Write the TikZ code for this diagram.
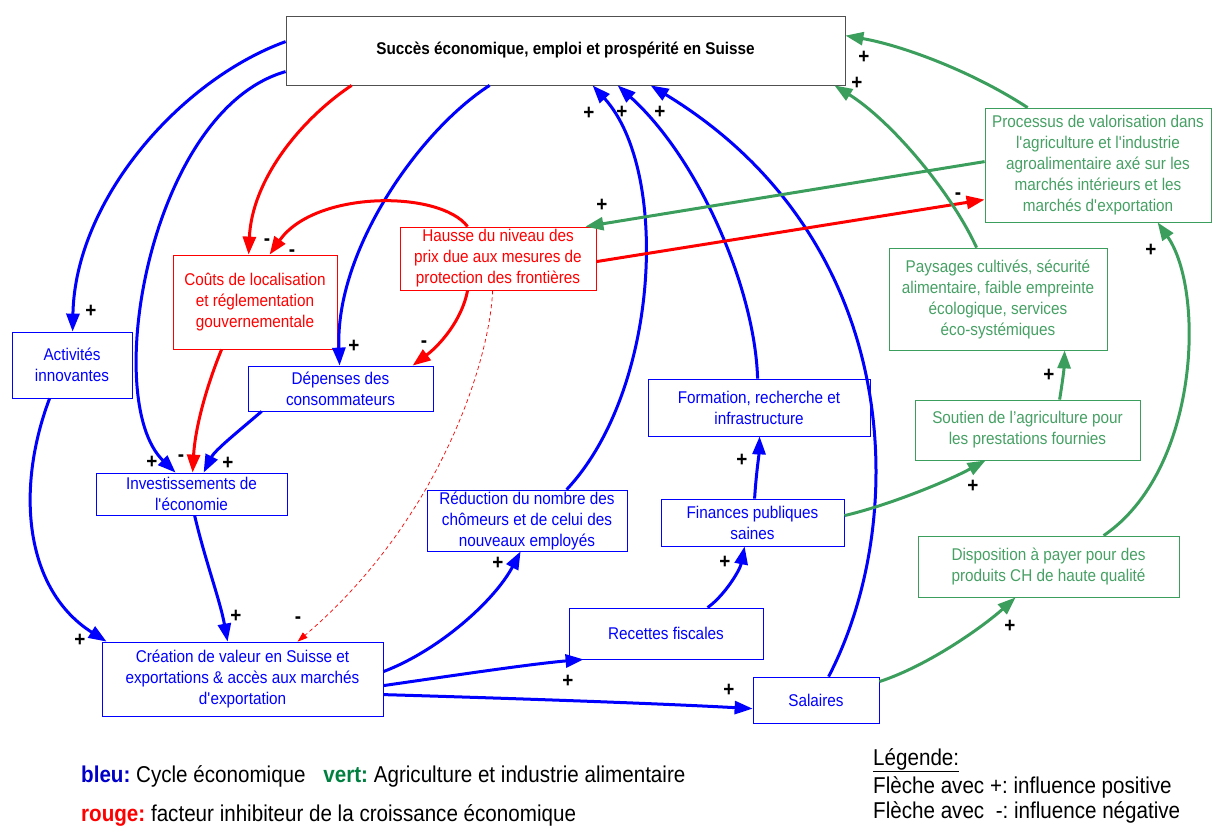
\documentclass[tikz,border=0pt]{standalone}
\usepackage{fontspec}
\setmainfont{Liberation Sans}[FakeStretch=0.9]
\usetikzlibrary{arrows.meta}
\definecolor{cblue}{RGB}{0,0,255}
\definecolor{cred}{RGB}{255,0,0}
\definecolor{cgreen}{RGB}{60,158,92}
\definecolor{gtext}{RGB}{70,160,100}
\definecolor{legblue}{RGB}{0,0,200}
\definecolor{leggreen}{RGB}{0,128,64}
\definecolor{topframe}{RGB}{80,80,80}
\newcommand\nodefnt{\fontsize{17}{21}\selectfont}
\newcommand\legfnt{\fontsize{22.9}{26}\selectfont}
\newcommand\signfnt{\fontsize{21}{21}\selectfont\bfseries}
\newcommand\aq{\textquotesingle}
\frenchspacing
\begin{document}
\begin{tikzpicture}[x=1pt,y=-1pt,
  box/.style={draw, rectangle, inner sep=0pt, align=center, font=\nodefnt, line width=0.8pt},
  bbox/.style={box, draw=cblue, text=cblue},
  rbox/.style={box, draw=cred, text=cred},
  gbox/.style={box, draw=cgreen, text=gtext},
  conn/.style={line width=3pt, -{Triangle[length=18pt,width=13pt]}},
  bl/.style={conn, draw=cblue},
  rd/.style={conn, draw=cred},
  gr/.style={conn, draw=cgreen},
  dsh/.style={draw=cred, line width=0.7pt, dash pattern=on 4pt off 3pt, -{Triangle[length=10pt,width=7pt]}},
  sign/.style={inner sep=0pt, font=\signfnt, text=black},
  legend/.style={inner sep=0pt, anchor=west, font=\legfnt, text=black}
]
\useasboundingbox (0,0) rectangle (1213,825);
% nodes
\node[box, draw=topframe, minimum width=559pt, minimum height=69pt, font=\nodefnt\bfseries] (top) at (565.5,50.5) {Succès économique, emploi et prospérité en Suisse};
\node[gbox, minimum width=226pt, minimum height=114pt] (proc) at (1098,165) {Processus de valorisation dans\\l\aq agriculture et l\aq industrie\\agroalimentaire axé sur les\\marchés intérieurs et les\\marchés d\aq exportation};
\node[rbox, minimum width=164pt, minimum height=94pt] (couts) at (255,302) {Coûts de localisation\\et réglementation\\gouvernementale};
\node[rbox, minimum width=196pt, minimum height=63pt] (hausse) at (498,258.5) {Hausse du niveau des\\prix due aux mesures de\\protection des frontières};
\node[gbox, minimum width=218pt, minimum height=102pt] (pays) at (998,299) {Paysages cultivés, sécurité\\alimentaire, faible empreinte\\écologique, services\\éco-systémiques};
\node[bbox, minimum width=120pt, minimum height=66pt] (activ) at (72,365) {Activités\\innovantes};
\node[bbox, minimum width=185pt, minimum height=45pt] (dep) at (340.5,388.5) {Dépenses des\\consommateurs};
\node[bbox, minimum width=222pt, minimum height=57pt] (form) at (759,407.5) {Formation, recherche et\\infrastructure};
\node[gbox, minimum width=225pt, minimum height=60pt] (sout) at (1027.5,430) {Soutien de l’agriculture pour\\les prestations fournies};
\node[bbox, minimum width=191pt, minimum height=42pt] (inv) at (191.5,494) {Investissements de\\l\aq économie};
\node[bbox, minimum width=200pt, minimum height=61pt] (red) at (527,520.5) {Réduction du nombre des\\chômeurs et de celui des\\nouveaux employés};
\node[bbox, minimum width=183pt, minimum height=47pt] (fin) at (752.5,522.5) {Finances publiques\\saines};
\node[gbox, minimum width=261pt, minimum height=61pt] (disp) at (1048.5,566.5) {Disposition à payer pour des\\produits CH de haute qualité};
\node[bbox, minimum width=194pt, minimum height=51pt] (rec) at (666,633.5) {Recettes fiscales};
\node[bbox, minimum width=281pt, minimum height=74pt] (crea) at (242.5,679) {Création de valeur en Suisse et\\exportations \& accès aux marchés\\d\aq exportation};
\node[bbox, minimum width=126pt, minimum height=46pt] (sal) at (816,700) {Salaires};
% blue connectors
\draw[bl] ([yshift=-26pt]top.north west) .. controls (180,80) and (75,200) .. ([xshift=61pt]activ.north west);
\draw[bl] ([yshift=-56pt]top.north west) .. controls (150,110) and (100,400) .. ([xshift=80pt]inv.north west);
\draw[bl] ([xshift=204pt]top.south west) .. controls (420,130) and (335,250) .. ([xshift=92pt]dep.north west);
\draw[bl] ([xshift=14pt]dep.south west) .. controls (240,430) and (215,450) .. ([xshift=108pt]inv.north west);
\draw[bl] ([xshift=38pt]activ.south west) .. controls (15,490) and (25,590) .. ([xshift=5pt]crea.north west);
\draw[bl] ([xshift=99pt]inv.south west) .. controls (205,560) and (220,600) .. ([xshift=126pt]crea.north west);
\draw[bl] ([yshift=-30pt]crea.north east) .. controls (440,650) and (495,600) .. ([xshift=94pt]red.south west);
\draw[bl] ([xshift=140pt]red.north west) .. controls (660,390) and (670,170) .. ([xshift=307pt]top.south west);
\draw[bl] ([xshift=110pt]form.north west) .. controls (755,290) and (700,160) .. ([xshift=332pt]top.south west);
\draw[bl] ([xshift=76pt]sal.north west) .. controls (910,520) and (905,240) .. ([xshift=365pt]top.south west);
\draw[bl] ([yshift=-44pt]crea.north east) .. controls (450,676) and (530,664) .. ([xshift=15pt]rec.south west);
\draw[bl] ([yshift=-53pt]crea.north east) .. controls (500,698) and (650,703) .. ([yshift=-32pt]sal.north west);
\draw[bl] ([xshift=139pt]rec.north west) .. controls (725,595) and (740,570) .. ([xshift=84pt]fin.south west);
\draw[bl] ([xshift=94pt]fin.north west) .. controls (756,475) and (759,455) .. ([xshift=112pt]form.south west);
% red connectors
\draw[rd] ([xshift=66pt]top.south west) .. controls (300,120) and (252,180) .. ([xshift=76pt]couts.north west);
\draw[rd] ([xshift=68pt]hausse.north west) .. controls (440,190) and (315,190) .. ([xshift=97pt]couts.north west);
\draw[rd] ([xshift=68pt]hausse.south west) .. controls (462,320) and (440,345) .. ([xshift=165pt]dep.north west);
\draw[rd] ([yshift=-35pt]hausse.north east) -- ([yshift=-92pt]proc.north west);
\draw[rd] ([xshift=49pt]couts.south west) .. controls (205,390) and (195,430) .. ([xshift=97pt]inv.north west);
\draw[dsh] ([xshift=93pt]hausse.south west) .. controls (490,360) and (440,520) .. ([xshift=196pt]crea.north west);
% green connectors
\draw[gr] ([xshift=43pt]proc.north west) .. controls (970,70) and (900,45) .. ([yshift=-20pt]top.north east);
\draw[gr] ([xshift=88pt]pays.north west) .. controls (950,190) and (890,120) .. ([xshift=-11pt]top.south east);
\draw[gr] ([yshift=-54pt]proc.north west) -- ([xshift=-11pt]hausse.north east);
\draw[gr] ([xshift=145pt]sout.north west) .. controls (1062,385) and (1064,370) .. ([xshift=176pt]pays.south west);
\draw[gr] ([yshift=-17pt]fin.north east) .. controls (890,505) and (950,480) .. ([xshift=71pt]sout.south west);
\draw[gr] ([yshift=-5pt]sal.north east) .. controls (930,665) and (985,625) .. ([xshift=98pt]disp.south west);
\draw[gr] ([xshift=186pt]disp.north west) .. controls (1200,470) and (1205,290) .. ([xshift=173pt]proc.south west);
% signs
\node[sign] (s1) at (91,311) {+};
\node[sign] (s2) at (152,462) {+};
\node[sign] (s3) at (354,346) {+};
\node[sign] (s4) at (267,242) {-};
\node[sign] (s5) at (292,253) {-};
\node[sign] (s6) at (424,344) {-};
\node[sign] (s7) at (958,196) {-};
\node[sign] (s8) at (181,458) {-};
\node[sign] (s9) at (298,620) {-};
\node[sign] (s10) at (228,463) {+};
\node[sign] (s11) at (80,640) {+};
\node[sign] (s12) at (236,616) {+};
\node[sign] (s13) at (498,563) {+};
\node[sign] (s14) at (589,113) {+};
\node[sign] (s15) at (622,112) {+};
\node[sign] (s16) at (660,112) {+};
\node[sign] (s17) at (568,681) {+};
\node[sign] (s18) at (729,690) {+};
\node[sign] (s19) at (725,562) {+};
\node[sign] (s20) at (742,460) {+};
\node[sign] (s21) at (864,57) {+};
\node[sign] (s22) at (857,83) {+};
\node[sign] (s23) at (602,205) {+};
\node[sign] (s24) at (1049,375) {+};
\node[sign] (s25) at (973,486) {+};
\node[sign] (s26) at (1010,626) {+};
\node[sign] (s27) at (1151,250) {+};
% legend
\node[legend] (leg1) at (81,776) {\textcolor{legblue}{\textbf{bleu:}} Cycle économique\hspace{12pt} \textcolor{leggreen}{\textbf{vert:}} Agriculture et industrie alimentaire};
\node[legend] (leg2) at (81,815) {\textcolor{cred}{\textbf{rouge:}} facteur inhibiteur de la croissance économique};
\node[legend] (leg3) at (873,760) {\underline{Légende:}};
\node[legend] (leg4) at (873,787) {Flèche avec +: influence positive};
\node[legend] (leg5) at (873,812) {Flèche avec\ \ -: influence négative};
\end{tikzpicture}
\end{document}
